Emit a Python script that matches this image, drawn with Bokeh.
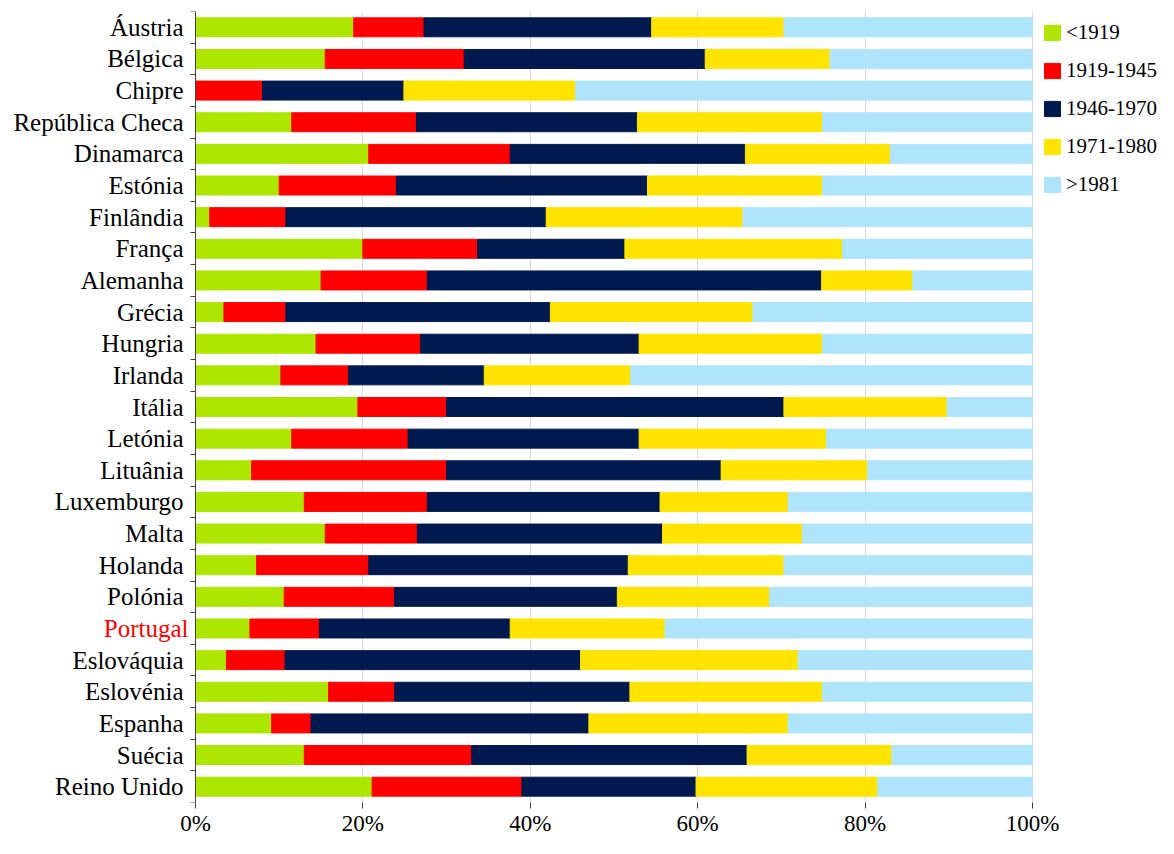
from bokeh.plotting import figure
from bokeh.models import (ColumnDataSource, Range1d, FixedTicker, Label, Legend,
                          LegendItem, PrintfTickFormatter, LinearAxis)
from bokeh.embed import file_html
from bokeh.resources import INLINE

countries = ["Áustria", "Bélgica", "Chipre", "República Checa", "Dinamarca",
             "Estónia", "Finlândia", "França", "Alemanha", "Grécia", "Hungria",
             "Irlanda", "Itália", "Letónia", "Lituânia", "Luxemburgo", "Malta",
             "Holanda", "Polónia", "Portugal", "Eslováquia", "Eslovénia",
             "Espanha", "Suécia", "Reino Unido"]

before_1919 = [18.9, 15.5, 0.0, 11.5, 20.7, 10.0, 1.7, 20.0, 15.0, 3.4, 14.4,
               10.2, 19.4, 11.5, 6.7, 13.0, 15.5, 7.3, 10.6, 6.5, 3.7, 15.9,
               9.1, 13.0, 21.1]
p1919_1945 = [8.4, 16.6, 8.0, 14.9, 16.9, 14.0, 9.1, 13.7, 12.7, 7.4, 12.5,
              8.1, 10.6, 13.9, 23.3, 14.7, 11.0, 13.4, 13.2, 8.3, 7.0, 7.9,
              4.7, 20.0, 17.9]
p1946_1970 = [27.2, 28.8, 16.9, 26.4, 28.1, 30.0, 31.1, 17.6, 47.1, 31.6, 26.1,
              16.2, 40.3, 27.6, 32.8, 27.8, 29.3, 31.0, 26.6, 22.8, 35.3, 28.1,
              33.2, 32.9, 20.8]
p1971_1980 = [15.8, 14.9, 20.5, 22.1, 17.3, 20.9, 23.5, 26.0, 10.9, 24.2, 21.9,
              17.5, 19.5, 22.4, 17.5, 15.3, 16.7, 18.6, 18.2, 18.5, 26.0, 23.0,
              23.8, 17.3, 21.7]
after_1981 = [29.7, 24.2, 54.6, 25.1, 17.0, 25.1, 34.6, 22.7, 14.3, 33.4, 25.1,
              48.0, 10.2, 24.6, 19.7, 29.2, 27.5, 29.7, 31.4, 43.9, 28.0, 25.1,
              29.2, 16.8, 18.5]

series_names = ["<1919", "1919-1945", "1946-1970", "1971-1980", ">1981"]
x_ticks = [0, 20, 40, 60, 80, 100]
highlight = "Portugal"

colors = ["#ade600", "#ff0000", "#001a4f", "#ffe400", "#aee5fc"]
keys = ["s0", "s1", "s2", "s3", "s4"]
FONT = "Liberation Serif"

# layout (pixels)
W, H = 1158, 838
TOP, BOTTOM = 11, 34
X0_PX, X100_PX = 195, 1032
ppu = (X100_PX - X0_PX) / 100.0
frame_h = H - TOP - BOTTOM

n = len(countries)
ypos = [i + 0.5 for i in range(n)]
source = ColumnDataSource(dict(y=ypos, country=countries,
                               s0=before_1919, s1=p1919_1945, s2=p1946_1970,
                               s3=p1971_1980, s4=after_1981))

p = figure(width=W, height=H,
           x_range=Range1d(-X0_PX / ppu, (W - X0_PX) / ppu),
           y_range=Range1d(n, 0), output_backend="svg", toolbar_location=None,
           min_border_left=0, min_border_right=0, min_border_top=TOP,
           min_border_bottom=BOTTOM, y_axis_location=None)
p.outline_line_color = None
p.background_fill_color = "white"

renderers = p.hbar_stack(keys, y="y", height=0.6, color=colors, source=source)

# y axis drawn at x = 0 inside the frame
yax = LinearAxis(fixed_location=0)
yax.ticker = FixedTicker(ticks=ypos, minor_ticks=list(range(n + 1)))
yax.major_label_overrides = {y: ("" if c == highlight else c)
                             for y, c in zip(ypos, countries)}
yax.major_tick_line_color = None
yax.major_tick_out = 0
yax.major_tick_in = 0
yax.minor_tick_out = 5
yax.minor_tick_in = 0
yax.minor_tick_line_color = "#404040"
yax.axis_line_color = "#404040"
yax.major_label_standoff = 7
yax.major_label_text_font = FONT
yax.major_label_text_font_size = "25px"
yax.major_label_text_color = "black"
p.add_layout(yax, "left")

hy = ypos[countries.index(highlight)]
p.add_layout(Label(x=0, y=hy, x_offset=-7, text=highlight, text_align="right",
                   text_baseline="middle", text_color="#ff0000",
                   text_font=FONT, text_font_size="25px"))

# x axis
p.xaxis.ticker = FixedTicker(ticks=x_ticks)
p.xaxis.formatter = PrintfTickFormatter(format="%d%%")
p.xaxis.axis_line_color = None
p.xaxis.major_tick_out = 6
p.xaxis.major_tick_in = 0
p.xaxis.major_tick_line_color = "#404040"
p.xaxis.minor_tick_line_color = None
p.xaxis.major_label_standoff = 2
p.xaxis.major_label_text_font = FONT
p.xaxis.major_label_text_font_size = "23px"
p.xaxis.major_label_text_color = "black"

p.xgrid.grid_line_color = "#d9d9d9"
p.ygrid.grid_line_color = None

leg_h = 5 * 24 + 4 * 13
legend = Legend(items=[LegendItem(label=nm, renderers=[r])
                       for nm, r in zip(series_names, renderers)],
                location=(1042, frame_h - 16 - leg_h), padding=0, margin=0,
                spacing=13, glyph_width=20, glyph_height=19, label_height=24,
                label_standoff=4, label_text_font=FONT,
                label_text_font_size="21px", label_text_color="black",
                border_line_color=None, background_fill_alpha=0)
p.add_layout(legend)

open("out.html", "w").write(file_html(p, INLINE))
